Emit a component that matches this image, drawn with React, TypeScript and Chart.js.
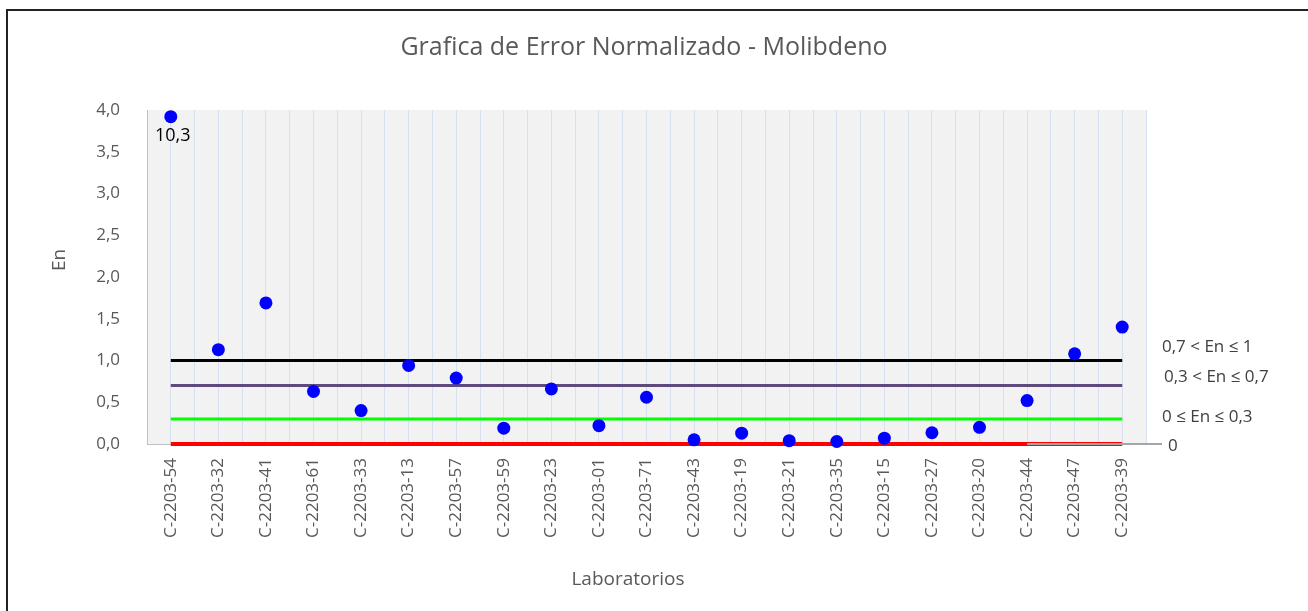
import React, { useEffect, useRef } from 'react';
import { Chart, registerables } from 'chart.js';

Chart.register(...registerables);

const categories = [
  'C-2203-54', 'C-2203-32', 'C-2203-41', 'C-2203-61', 'C-2203-33', 'C-2203-13', 'C-2203-57',
  'C-2203-59', 'C-2203-23', 'C-2203-01', 'C-2203-71', 'C-2203-43', 'C-2203-19', 'C-2203-21',
  'C-2203-35', 'C-2203-15', 'C-2203-27', 'C-2203-20', 'C-2203-44', 'C-2203-47', 'C-2203-39',
];

// plotted En values (first one is capped at the top of the axis; its real value is shown as label)
const enValues = [
  3.92, 1.13, 1.69, 0.63, 0.40, 0.94, 0.79,
  0.19, 0.66, 0.22, 0.56, 0.05, 0.13, 0.04,
  0.03, 0.07, 0.135, 0.20, 0.52, 1.08, 1.40,
];

const enLabels = ['10,3', '', '', '', '', '', '', '', '', '', '', '', '', '', '', '', '', '', '', '', ''];

const thresholdValues = [1, 0.7, 0.3, 0];
const thresholdLabels = ['0,7 < En ≤ 1', '0,3 < En ≤ 0,7', '0 ≤ En ≤ 0,3', '0'];

const yMin = 0;
const yMax = 4;
const yStep = 0.5;

const titleText = 'Grafica de Error Normalizado - Molibdeno';
const xTitleText = 'Laboratorios';
const yTitleText = 'En';

// styles
const FONT = "'Open Sans', sans-serif";
const thresholdStyles = [
  { color: '#000000', width: 3, dx: 16, dy: -13 },
  { color: '#5f4b7b', width: 3, dx: 18, dy: -8 },
  { color: '#00ff00', width: 3, dx: 16, dy: -2 },
  { color: '#ff0000', width: 4, dx: 22, dy: 2 },
];
const leaderFromIndex = 18;

const decorPlugin = {
  id: 'decor',
  beforeDraw(chart: any) {
    const { ctx, chartArea } = chart;
    ctx.save();
    ctx.fillStyle = '#f2f2f2';
    ctx.fillRect(chartArea.left, chartArea.top, chartArea.right - chartArea.left, chartArea.bottom - chartArea.top);
    ctx.restore();
  },
  afterDatasetsDraw(chart: any) {
    const { ctx, chartArea, scales } = chart;
    const xs = scales.x;
    const ys = scales.y;
    ctx.save();
    // leader line for the "0" label
    const y0 = ys.getPixelForValue(thresholdValues[3]);
    ctx.strokeStyle = '#a6a6a6';
    ctx.lineWidth = 2;
    ctx.beginPath();
    ctx.moveTo(xs.getPixelForValue(leaderFromIndex), y0);
    ctx.lineTo(chartArea.right + 16, y0);
    ctx.stroke();

    // threshold labels
    ctx.fillStyle = '#404040';
    ctx.font = `17px ${FONT}`;
    ctx.textAlign = 'left';
    ctx.textBaseline = 'middle';
    thresholdValues.forEach((v, i) => {
      const st = thresholdStyles[i];
      ctx.fillText(thresholdLabels[i], chartArea.right + st.dx, ys.getPixelForValue(v) + st.dy);
    });

    // point labels
    const meta = chart.getDatasetMeta(0);
    ctx.fillStyle = '#000000';
    ctx.font = `18px ${FONT}`;
    ctx.textAlign = 'center';
    meta.data.forEach((el: any, i: number) => {
      if (enLabels[i]) ctx.fillText(enLabels[i], el.x + 2, el.y + 19);
    });

    // titles
    ctx.fillStyle = '#595959';
    ctx.font = `25px ${FONT}`;
    ctx.textAlign = 'center';
    ctx.fillText(titleText, 644, 48);
    ctx.font = `19px ${FONT}`;
    ctx.fillText(xTitleText, 628, 580);
    ctx.translate(60, 260);
    ctx.rotate(-Math.PI / 2);
    ctx.fillText(yTitleText, 0, 0);
    ctx.restore();
  },
};

export default function App() {
  const ref = useRef<HTMLCanvasElement | null>(null);

  useEffect(() => {
    if (!ref.current) return;
    const datasets: any[] = [
      {
        label: 'En',
        data: enValues.map((v, i) => ({ x: i, y: v })),
        backgroundColor: '#0000ff',
        borderColor: '#0000ff',
        pointRadius: 6.5,
        pointBorderWidth: 0,
        showLine: false,
        clip: false,
        order: 0,
      },
      ...thresholdValues.map((v, i) => ({
        label: thresholdLabels[i],
        data: [
          { x: 0, y: v },
          { x: categories.length - 1, y: v },
        ],
        showLine: true,
        borderColor: thresholdStyles[i].color,
        borderWidth: thresholdStyles[i].width,
        pointRadius: 0,
        clip: false,
        order: 1,
      })),
    ];
    const chart = new Chart(ref.current, {
      type: 'scatter',
      data: { datasets },
      options: {
        animation: false,
        responsive: false,
        events: [],
        layout: { padding: { top: 110, right: 162, bottom: 0, left: 0 } },
        plugins: { legend: { display: false }, title: { display: false }, tooltip: { enabled: false } },
        scales: {
          x: {
            type: 'linear',
            min: -0.5,
            max: categories.length - 0.5,
            afterFit: (s: any) => { s.height = 167; },
            grid: { color: '#d6e0f0', drawTicks: false, lineWidth: 1 },
            border: { display: true, color: '#bfbfbf', width: 1 },
            ticks: {
              stepSize: 0.5,
              autoSkip: false,
              maxRotation: 90,
              minRotation: 90,
              padding: 14,
              color: '#595959',
              font: { family: FONT, size: 17 },
              callback: (value: any) => {
                const v = Number(value);
                const idx = Math.round(v);
                return Math.abs(v - idx) < 1e-6 && categories[idx] ? categories[idx] : '';
              },
            },
          },
          y: {
            type: 'linear',
            min: yMin,
            max: yMax,
            afterFit: (s: any) => { s.width = 147; },
            grid: { display: false },
            border: { display: true, color: '#bfbfbf', width: 1 },
            ticks: {
              stepSize: yStep,
              padding: 19,
              color: '#595959',
              font: { family: FONT, size: 17 },
              callback: (value: any) => Number(value).toFixed(1).replace('.', ','),
            },
          },
        },
      },
      plugins: [decorPlugin],
    } as any);
    return () => chart.destroy();
  }, []);

  return (
    <div style={{ position: 'fixed', left: 0, top: 0, width: 1308, height: 611, overflow: 'hidden', background: '#fff' }}>
      <div
        style={{
          position: 'absolute',
          left: 6,
          top: 9,
          width: 1400,
          height: 700,
          border: '2px solid #222',
        }}
      />
      <canvas ref={ref} width={1308} height={611} style={{ position: 'absolute', left: 0, top: 0, display: 'block' }} />
    </div>
  );
}
